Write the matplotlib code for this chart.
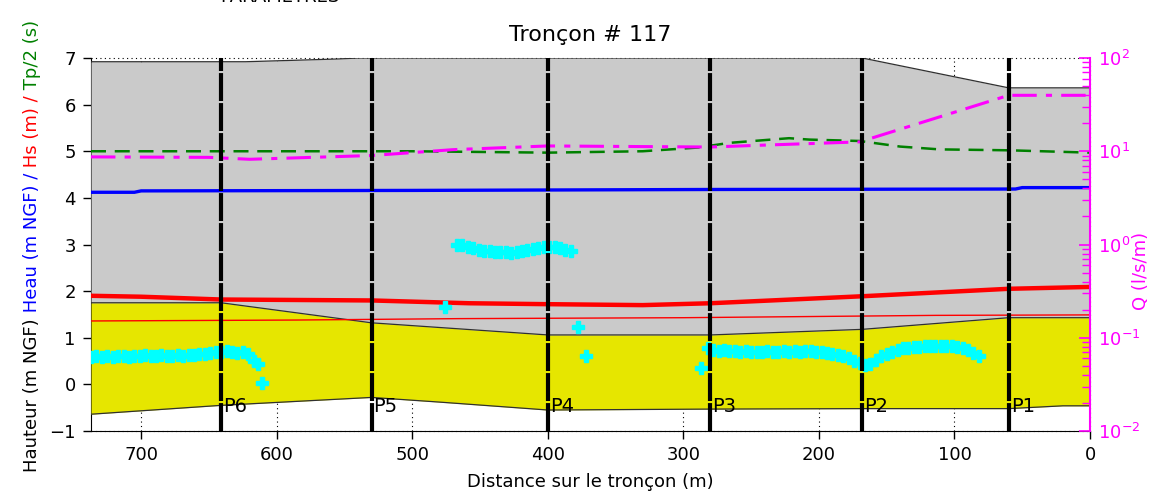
import matplotlib
matplotlib.use('Agg')
import matplotlib.pyplot as plt
import numpy as np

plt.rcParams['font.family'] = 'DejaVu Sans'

# profile positions along the reach (m)
prof_names = ['P6', 'P5', 'P4', 'P3', 'P2', 'P1']
prof_x = [641, 530, 400, 280, 168, 60]

# upper envelope (grey zone)
top_x = [737, 623, 588, 554, 540, 225, 168, 60, 0]
top_y = [6.92, 6.92, 6.95, 6.98, 7.0, 7.0, 7.0, 6.36, 6.36]

# structure (yellow zone): crest and toe
crest_x = [737, 641, 530, 400, 280, 168, 60, 0]
crest_y = [1.75, 1.75, 1.32, 1.06, 1.06, 1.18, 1.43, 1.43]
toe_x = [737, 641, 530, 480, 400, 280, 168, 60, 20, 0]
toe_y = [-0.64, -0.45, -0.28, -0.38, -0.55, -0.53, -0.52, -0.52, -0.46, -0.46]

# water level
heau_x = [737, 705, 700, 500, 280, 55, 50, 0]
heau_y = [4.12, 4.12, 4.15, 4.16, 4.18, 4.19, 4.22, 4.22]

# significant wave height (thick) and secondary level (thin)
hs_x = [737, 700, 641, 530, 458, 400, 330, 280, 168, 60, 0]
hs_y = [1.90, 1.88, 1.82, 1.80, 1.74, 1.72, 1.70, 1.74, 1.89, 2.05, 2.09]
hs2_x = [737, 585, 466, 300, 225, 114, 0]
hs2_y = [1.36, 1.38, 1.41, 1.43, 1.45, 1.48, 1.49]

# half peak period
tp_x = [737, 500, 400, 330, 289, 266, 222, 207, 170, 140, 111, 59, 0]
tp_y = [5.00, 5.00, 4.97, 5.00, 5.08, 5.18, 5.28, 5.25, 5.22, 5.10, 5.04, 5.02, 4.97]

# overtopping discharge (l/s/m)
q_x = [737, 650, 620, 530, 470, 400, 280, 243, 170, 60, 0]
q_val = [8.7, 8.6, 8.2, 9.0, 10.4, 11.4, 11.1, 11.6, 12.6, 39.8, 39.8]

# run-up points
ru_x = [737, 733, 729, 725, 721, 717, 713, 709, 705, 701, 697, 693, 689, 685,
        681, 677, 673, 669, 665, 661, 657, 653, 649, 645, 641, 637, 633, 629,
        625, 621, 617, 614, 611,
        476,
        467, 463, 459, 455, 451, 447, 443, 439, 435, 431, 427, 423, 419, 415,
        411, 407, 403, 399, 395, 391, 387, 383,
        378, 372, 287,
        282, 278, 274, 270, 266, 262, 258, 254, 250, 246, 242, 238, 234, 230,
        226, 222, 218, 214, 210, 206, 202, 198, 194, 190, 186, 182, 178, 174,
        170, 166, 162, 158, 154, 150, 146, 142, 138, 134, 130, 126, 122, 118,
        114, 110, 106, 102, 98, 94, 90, 86, 82]
ru_y = [0.58, 0.60, 0.58, 0.61, 0.59, 0.60, 0.61, 0.59, 0.61, 0.60, 0.62, 0.60,
        0.61, 0.62, 0.60, 0.61, 0.62, 0.61, 0.63, 0.64, 0.66, 0.65, 0.68, 0.70,
        0.69, 0.71, 0.70, 0.68, 0.69, 0.66, 0.50, 0.44, 0.02,
        1.66,
        3.00, 2.98, 2.95, 2.92, 2.89, 2.87, 2.85, 2.84, 2.83, 2.83, 2.82, 2.84,
        2.86, 2.88, 2.90, 2.92, 2.94, 2.95, 2.94, 2.92, 2.88, 2.85,
        1.24, 0.60, 0.35,
        0.78, 0.74, 0.72, 0.73, 0.71, 0.72, 0.70, 0.71, 0.70, 0.69, 0.70, 0.71,
        0.70, 0.69, 0.71, 0.70, 0.71, 0.70, 0.72, 0.71, 0.70, 0.69, 0.68, 0.66,
        0.64, 0.60, 0.56, 0.50, 0.46, 0.42, 0.44, 0.52, 0.60, 0.66, 0.70, 0.74,
        0.77, 0.79, 0.80, 0.81, 0.82, 0.82, 0.83, 0.82, 0.83, 0.82, 0.81, 0.78,
        0.73, 0.67, 0.61]

x_ticks = [700, 600, 500, 400, 300, 200, 100, 0]
y_ticks = [-1, 0, 1, 2, 3, 4, 5, 6, 7]

GREY = '#cacaca'
YELLOW = '#e6e600'
MAGENTA = '#ff00ff'

fig = plt.figure(figsize=(11.56, 4.97), dpi=100)
ax = fig.add_axes([91 / 1156, 1 - 431 / 497, 999 / 1156, 373 / 497])

# grey zone between the crest and the upper envelope
env_x = np.array(sorted(set(top_x) | set(crest_x)), dtype=float)[::-1]
env_top = np.interp(env_x, top_x[::-1], top_y[::-1])
env_crest = np.interp(env_x, crest_x[::-1], crest_y[::-1])
ax.fill_between(env_x, env_crest, env_top, color=GREY, lw=0, zorder=1)

st_x = np.array(sorted(set(crest_x) | set(toe_x)), dtype=float)[::-1]
st_top = np.interp(st_x, crest_x[::-1], crest_y[::-1])
st_bot = np.interp(st_x, toe_x[::-1], toe_y[::-1])
ax.fill_between(st_x, st_bot, st_top, color=YELLOW, lw=0, zorder=1.1)

for xs, ys in [(top_x, top_y), (crest_x, crest_y), (toe_x, toe_y)]:
    ax.plot(xs, ys, color='#303030', lw=0.9, zorder=1.2)

ax.plot(hs2_x, hs2_y, color='#ff0000', lw=1.0, zorder=2)
ax.plot(hs_x, hs_y, color='#ff0000', lw=3.2, zorder=2.1)
ax.plot(heau_x, heau_y, color='#0000ff', lw=2.4, zorder=2.1)
ax.plot(tp_x, tp_y, color='#008000', lw=1.8, ls=(0, (6, 3.5)), zorder=2.2)
ax.plot(ru_x, ru_y, ls='none', marker='P', ms=9, mfc='#00ffff', mec='#00ffff',
        zorder=2.3)

ax.set_xlim(737, 0)
ax.set_ylim(-1, 7)
ax.set_xticks(x_ticks)
ax.set_yticks(y_ticks)
ax.set_axisbelow(True)
ax.grid(True, color='black', lw=0.8, ls=(0, (1, 3)))
for gl in ax.get_ygridlines() + ax.get_xgridlines():
    gl.set_clip_on(False)
ax.tick_params(axis='both', direction='out', length=6, width=1, labelsize=13,
               pad=5)
for side in ['top', 'right']:
    ax.spines[side].set_visible(False)
ax.spines['left'].set_zorder(0.5)
ax.set_xlabel('Distance sur le tronçon (m)', fontsize=13, labelpad=6)
ax.set_title('Tronçon # 117', fontsize=16, pad=12)

# discharge on a log axis
ax2 = ax.twinx()
ax2.set_yscale('log')
ax2.set_ylim(1e-2, 1e2)
ax2.set_xlim(737, 0)
ax2.plot(q_x, q_val, color=MAGENTA, lw=2.2, ls=(0, (8, 3, 2, 3)), zorder=2)
for side in ['left', 'top', 'bottom']:
    ax2.spines[side].set_visible(False)
ax2.spines['right'].set_color(MAGENTA)
ax2.spines['right'].set_linewidth(1.5)
ax2.tick_params(axis='y', which='major', direction='in', length=8, width=1.2,
                colors=MAGENTA, labelsize=13, pad=6)
ax2.tick_params(axis='y', which='minor', direction='in', length=6, width=1,
                colors=MAGENTA)
ax2.set_ylabel('Q (l/s/m)', color=MAGENTA, fontsize=13)
ax2.yaxis.set_label_coords(1.042, 0.43)

# profile markers on top of everything
for name, px in zip(prof_names, prof_x):
    ax2.axvline(px, ymin=0, ymax=1, color='black', lw=3.0,
                ls=(0, (6.7, 0.5)), zorder=5)
    ax2.text(px - 1.5, 0.066, name, transform=ax2.get_xaxis_transform(),
             ha='left', va='center', fontsize=14, zorder=6)

# multi-coloured left axis label
renderer = fig.canvas.get_renderer()
parts = [('Hauteur (m NGF)', 'black'), (' Heau (m NGF) /', '#0000ff'),
         (' Hs (m) /', '#ff0000'), (' Tp/2 (s)', '#008000')]
texts = [fig.text(32 / 1156, 0, s, rotation=90, color=c, ha='center',
                  va='bottom', fontsize=13) for s, c in parts]
heights = [t.get_window_extent(renderer).height / fig.bbox.height for t in texts]
y = (1 - 246 / 497) - sum(heights) / 2
for t, h in zip(texts, heights):
    t.set_y(y)
    y += h

fig.text(280 / 1156, 1 - 2 / 497, 'PARAMETRES', ha='center', va='baseline',
         fontsize=13)

fig.savefig('out.png', dpi=100)
